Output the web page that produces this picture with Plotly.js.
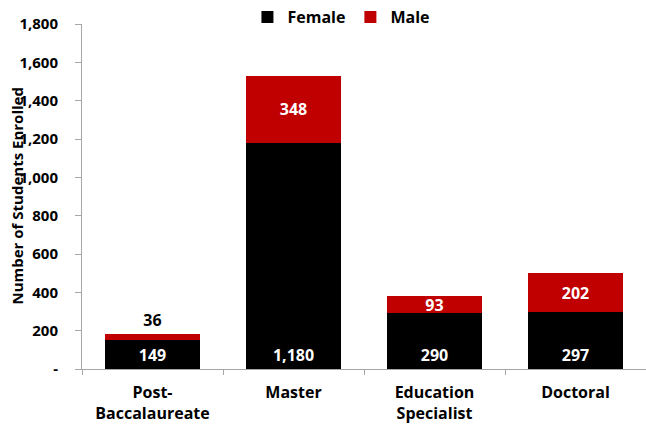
<!DOCTYPE html>
<html><head><meta charset="utf-8">
<script src="https://cdn.plot.ly/plotly-3.0.1.min.js"></script>
<style>html,body{margin:0;padding:0;background:#fff}#c{width:646px;height:425px}</style>
</head><body><div id="c"></div>
<script>
var categories = ["Post-<br>Baccalaureate", "Master", "Education<br>Specialist", "Doctoral"];
var female = [149, 1180, 290, 297];
var male = [36, 348, 93, 202];
var yTickVals = [0, 200, 400, 600, 800, 1000, 1200, 1400, 1600, 1800];
var yTickText = ["-", "200", "400", "600", "800", "1,000", "1,200", "1,400", "1,600", "1,800"];

var fmt = function(v){ return v.toLocaleString('en-US'); };
var FONT = "Open Sans, Noto Sans, sans-serif";

var traces = [
  {type:'bar', name:'Female', x:categories, y:female, marker:{color:'#000000'},
   text:female.map(fmt), textposition:'inside', insidetextanchor:'start', textangle:0,
   constraintext:'none',
   textfont:{color:'#ffffff', size:16, family:FONT, weight:'bold'}, hoverinfo:'skip'},
  {type:'bar', name:'Male', x:categories, y:male, marker:{color:'#C00000'},
   text:male.map(fmt), textposition:male.map(function(v){return v<50?'outside':'inside';}),
   insidetextanchor:'middle', textangle:0, constraintext:'none', cliponaxis:false,
   textfont:{color:male.map(function(v){return v<50?'#000000':'#ffffff';}), size:16, family:FONT, weight:'bold'},
   hoverinfo:'skip'}
];

var layout = {
  width:646, height:425,
  margin:{l:82, r:0, t:23, b:56},
  barmode:'stack', bargap:0.33,
  paper_bgcolor:'#ffffff', plot_bgcolor:'#ffffff',
  font:{family:FONT, color:'#000000'},
  showlegend:true,
  legend:{orientation:'h', x:0.46, xanchor:'center', y:1.07, yanchor:'top',
          font:{size:16, family:FONT, weight:'bold'}, traceorder:'normal'},
  xaxis:{showline:true, linecolor:'#a6a6a6', linewidth:1, ticks:'outside', tickson:'boundaries',
         ticklen:5, tickcolor:'#a6a6a6', showgrid:false, ticklabelstandoff:9,
         tickfont:{size:16, family:FONT, weight:'bold', color:'#000000'}, fixedrange:true},
  yaxis:{range:[0,1800], showline:true, linecolor:'#a6a6a6', linewidth:1, ticks:'outside',
         ticklen:6, tickcolor:'#a6a6a6', showgrid:false, zeroline:false,
         tickvals:yTickVals, ticktext:yTickText, ticklabelstandoff:14,
         tickfont:{size:15, family:FONT, weight:'bold', color:'#000000'}},
  annotations:[{xref:'paper', yref:'paper', x:-0.117, y:0.5, xanchor:'center', yanchor:'middle',
    text:'Number of Students Enrolled', textangle:-90, showarrow:false,
    font:{size:15, family:FONT, weight:'bold', color:'#000000'}}]
};
Plotly.newPlot('c', traces, layout, {displayModeBar:false, staticPlot:true});
</script></body></html>
